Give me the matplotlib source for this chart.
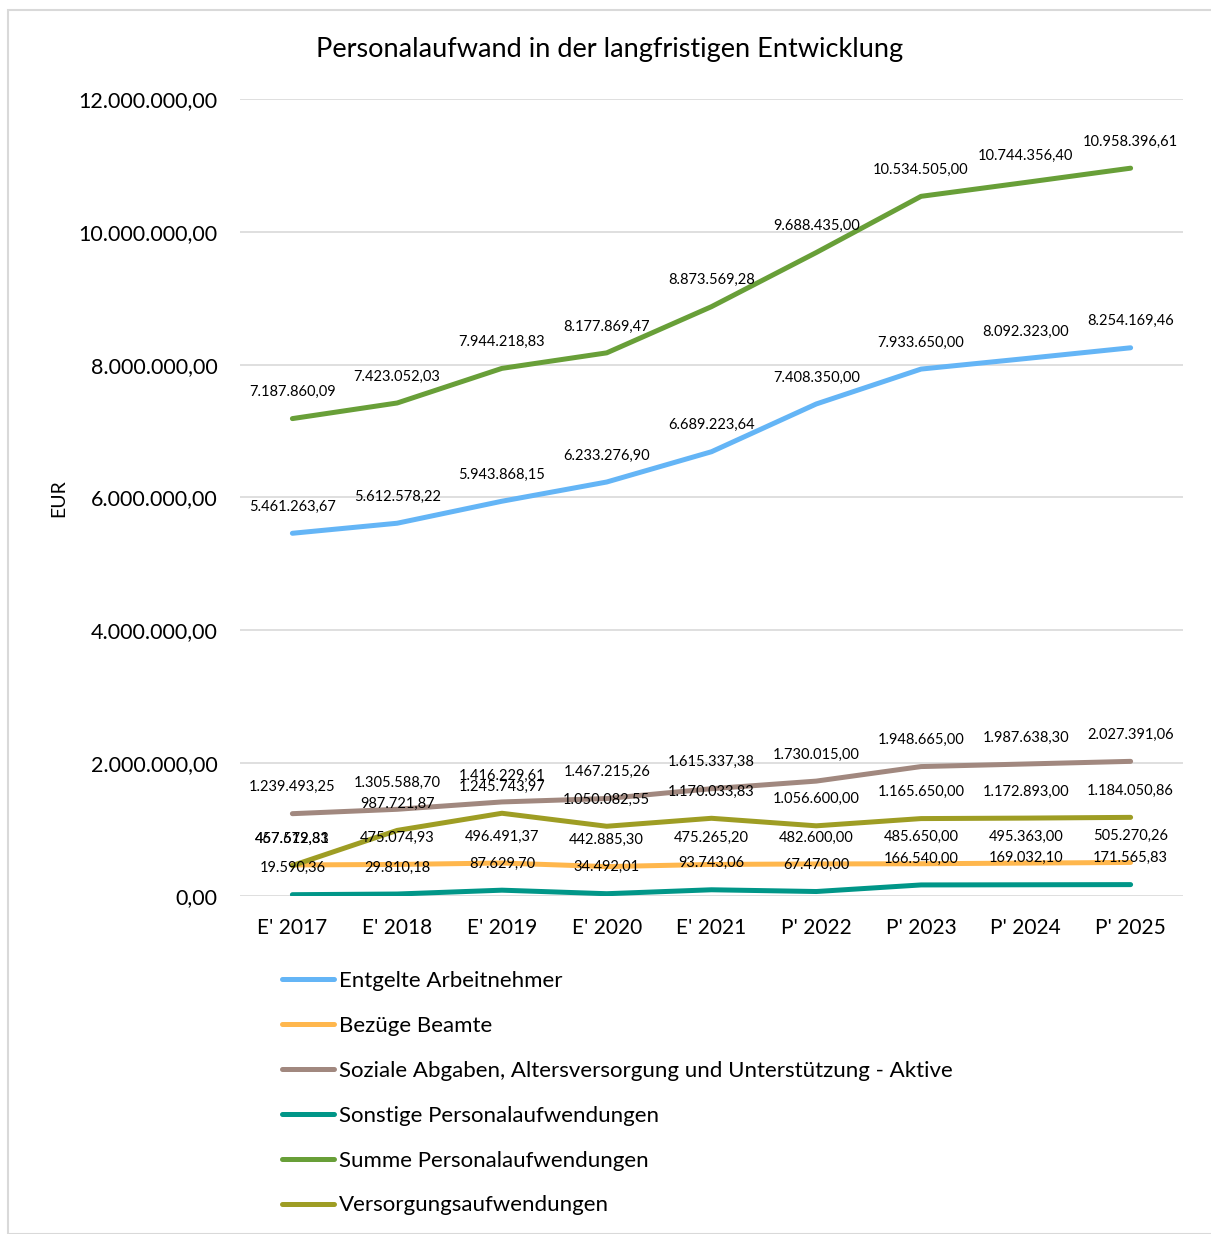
import matplotlib.pyplot as plt
from matplotlib.patches import Rectangle
from matplotlib.ticker import FuncFormatter

plt.rcParams['font.family'] = ['Lato', 'DejaVu Sans']

years = ["E' 2017", "E' 2018", "E' 2019", "E' 2020", "E' 2021",
         "P' 2022", "P' 2023", "P' 2024", "P' 2025"]

entgelte = [5461263.67, 5612578.22, 5943868.15, 6233276.90, 6689223.64,
            7408350.00, 7933650.00, 8092323.00, 8254169.46]
bezuege = [467512.81, 475074.93, 496491.37, 442885.30, 475265.20,
           482600.00, 485650.00, 495363.00, 505270.26]
soziale = [1239493.25, 1305588.70, 1416229.61, 1467215.26, 1615337.38,
           1730015.00, 1948665.00, 1987638.30, 2027391.06]
sonstige = [19590.36, 29810.18, 87629.70, 34492.01, 93743.06,
            67470.00, 166540.00, 169032.10, 171565.83]
summe = [7187860.09, 7423052.03, 7944218.83, 8177869.47, 8873569.28,
         9688435.00, 10534505.00, 10744356.40, 10958396.61]
versorgung = [457679.33, 987721.87, 1245743.97, 1050082.55, 1170033.83,
              1056600.00, 1165650.00, 1172893.00, 1184050.86]

series = [
    ("Entgelte Arbeitnehmer", entgelte, "#64B5F6"),
    ("Bezüge Beamte", bezuege, "#FFB74D"),
    ("Soziale Abgaben, Altersversorgung und Unterstützung - Aktive", soziale, "#A1887F"),
    ("Sonstige Personalaufwendungen", sonstige, "#009688"),
    ("Summe Personalaufwendungen", summe, "#689F38"),
    ("Versorgungsaufwendungen", versorgung, "#9E9D24"),
]


def de_fmt(v):
    s = f"{v:,.2f}"
    return s.replace(",", "X").replace(".", ",").replace("X", ".")


fig = plt.figure(figsize=(12.11, 12.34), dpi=100)
ax = fig.add_axes([240 / 1211, 1 - 896 / 1234, 943 / 1211, 797 / 1234])

x = list(range(len(years)))
for name, vals, color in series:
    ax.plot(x, vals, color=color, lw=3.6, label=name, solid_capstyle="round")
    for xi, v in zip(x, vals):
        ax.annotate(de_fmt(v), (xi, v), xytext=(0, 14), textcoords="offset points",
                    ha="center", va="bottom", fontsize=10.5, color="#000000")

ax.set_xlim(-0.5, len(years) - 0.5)
ax.set_ylim(0, 12000000)
ax.set_yticks(range(0, 12000001, 2000000))
ax.yaxis.set_major_formatter(FuncFormatter(lambda v, p: de_fmt(v)))
ax.set_xticks(x)
ax.set_xticklabels(years)
ax.tick_params(axis="x", length=0, labelsize=15, pad=16)
ax.tick_params(axis="y", length=0, labelsize=15.5, pad=16)
ax.grid(axis="y", color="#D9D9D9", lw=1.2)
ax.set_axisbelow(True)
for sp in ax.spines.values():
    sp.set_visible(False)
ax.set_ylabel("EUR", fontsize=14)
ax.yaxis.set_label_coords(67 / 1211, 1 - 498 / 1234, transform=fig.transFigure)

fig.text(610 / 1211, 1 - 50 / 1234, "Personalaufwand in der langfristigen Entwicklung",
         ha="center", va="center", fontsize=19.5)

ax.legend(loc="upper left", bbox_to_anchor=(282 / 1211, 1 - 971 / 1234),
          bbox_transform=fig.transFigure, frameon=False, fontsize=16,
          handlelength=2.35, handletextpad=0.2, labelspacing=1.12, borderaxespad=0,
          borderpad=0)

fig.add_artist(Rectangle((8 / 1211, 0), 1.2, 1 - 10 / 1234, transform=fig.transFigure,
                         fill=False, edgecolor="#D9D9D9", lw=1.5))

fig.savefig("out.png", dpi=100)
